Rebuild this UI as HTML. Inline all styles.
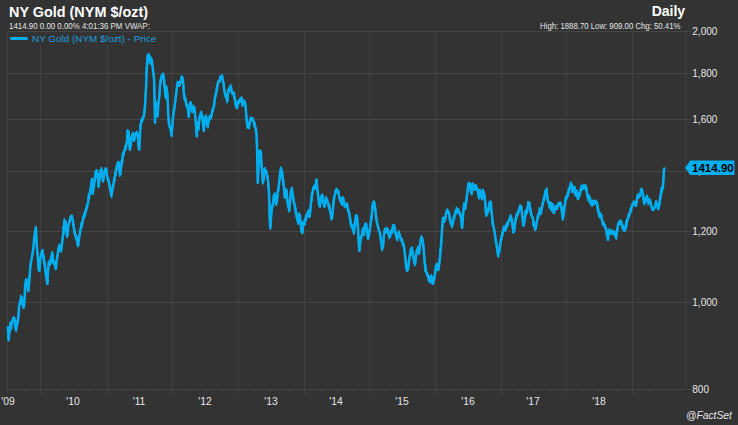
<!DOCTYPE html>
<html><head><meta charset="utf-8"><title>NY Gold (NYM $/ozt)</title>
<style>
html,body{margin:0;padding:0;background:#333333;}
body{width:738px;height:425px;position:relative;overflow:hidden;font-family:'Liberation Sans',Arial,Helvetica,sans-serif;}
.ov{position:absolute;left:0;top:0;}
.t{position:absolute;white-space:nowrap;line-height:1;}
</style></head><body>
<svg class="ov" width="738" height="425" viewBox="0 0 738 425" shape-rendering="crispEdges">
<rect x="0" y="0" width="738" height="425" fill="#333333"/>
<path d="M7.5 31.5H691M7.5 73.5H691M7.5 119.5H691M7.5 171.5H691M7.5 231.5H691M7.5 302.5H691M7.5 389.5H691" stroke="#454545" stroke-width="1" fill="none"/>
<path d="M40.5 32V395M107.5 32V395M172.5 32V395M238.5 32V395M304.5 32V395M369.5 32V395M435.5 32V395M501.5 32V395M566.5 32V395M632.5 32V395M7.5 31.5V389.5M685.5 31.5V389.5M7.5 390V392M24.5 390V392M57.5 390V392M74.5 390V392M90.5 390V392M123.5 390V392M140.5 390V392M156.5 390V392M188.5 390V392M205.5 390V392M222.5 390V392M254.5 390V392M271.5 390V392M288.5 390V392M320.5 390V392M336.5 390V392M353.5 390V392M386.5 390V392M402.5 390V392M418.5 390V392M452.5 390V392M468.5 390V392M484.5 390V392M517.5 390V392M534.5 390V392M550.5 390V392M582.5 390V392M599.5 390V392M616.5 390V392M648.5 390V392M7.5 390V392" stroke="#404040" stroke-width="1" fill="none"/>
<rect x="8" y="32" width="150" height="12" fill="#333333"/>
</svg>
<svg class="ov" width="738" height="425"><path d="M7.9 327.3 L8.6 340.3 L9.4 332.6 L10.4 323.8 L11.0 329.1 L12.0 322.0 L13.3 318.1 L14.1 317.6 L15.0 323.8 L15.9 330.0 L17.0 323.8 L17.7 322.0 L18.6 315.0 L19.1 306.1 L20.3 302.6 L21.6 297.3 L22.6 304.4 L23.9 307.0 L24.7 297.3 L25.1 284.9 L26.3 279.3 L27.4 286.7 L28.4 290.8 L29.2 281.4 L30.0 270.8 L30.6 263.8 L32.0 256.8 L33.3 248.8 L34.1 239.1 L35.0 232.0 L35.9 228.0 L36.4 237.3 L36.8 246.1 L37.7 255.0 L38.6 269.1 L39.4 270.8 L40.3 258.5 L41.6 253.2 L42.6 250.1 L43.3 256.8 L44.4 262.0 L45.3 269.1 L46.5 277.9 L47.4 284.1 L47.9 272.6 L48.8 262.0 L50.0 263.8 L51.4 256.8 L52.2 253.6 L53.2 262.0 L54.5 263.8 L55.9 269.1 L56.7 260.3 L57.5 255.0 L58.5 247.9 L59.8 246.1 L61.0 251.4 L62.0 243.5 L62.8 237.3 L63.8 228.5 L64.5 220.9 L65.6 221.4 L66.3 230.2 L67.4 235.5 L68.1 226.7 L69.1 223.2 L70.4 217.9 L71.6 215.6 L72.7 219.6 L73.9 228.5 L75.1 233.8 L76.5 237.3 L78.0 246.1 L79.2 237.3 L80.4 230.2 L81.8 224.9 L83.6 217.9 L84.4 215.0 L86.2 209.7 L88.0 202.6 L89.7 193.8 L91.0 186.8 L92.0 178.8 L92.7 193.8 L93.8 185.0 L95.0 177.9 L95.9 170.8 L96.8 170.4 L97.7 176.1 L98.6 186.8 L99.4 179.7 L100.3 170.8 L101.2 169.5 L102.1 174.4 L103.0 181.4 L103.9 176.1 L104.7 170.8 L106.1 168.6 L106.9 174.4 L107.9 179.7 L109.2 183.2 L110.4 190.3 L111.4 195.6 L112.3 190.3 L113.6 183.2 L115.0 176.1 L116.2 169.1 L117.5 163.8 L118.5 162.0 L119.6 172.6 L120.3 174.4 L121.0 167.3 L122.4 160.2 L123.0 153.7 L124.3 151.1 L125.6 147.2 L126.9 142.0 L127.8 131.7 L128.6 131.7 L129.1 139.5 L129.9 149.8 L130.8 144.6 L131.4 138.2 L132.5 134.3 L133.4 136.9 L134.0 140.8 L135.0 135.6 L135.9 133.0 L137.2 133.0 L137.9 135.6 L138.5 144.6 L139.2 149.8 L139.8 138.2 L140.5 125.2 L141.5 120.0 L142.8 118.7 L143.7 116.2 L144.4 112.3 L145.0 106.8 L145.5 96.8 L146.1 86.4 L146.5 72.8 L147.1 63.4 L147.6 55.8 L148.6 55.9 L149.4 57.0 L150.0 63.4 L150.6 57.6 L151.4 58.7 L152.1 62.3 L152.9 69.3 L153.5 74.0 L154.1 79.8 L154.5 95.8 L155.0 122.6 L155.7 102.3 L156.6 105.8 L157.5 116.4 L158.5 102.3 L159.4 94.8 L160.0 85.8 L160.8 81.1 L161.8 76.4 L162.7 75.3 L163.5 75.2 L164.1 81.1 L164.7 88.8 L165.6 97.0 L166.3 86.4 L167.3 93.5 L168.1 111.1 L169.1 125.3 L170.4 127.0 L171.6 135.9 L172.7 120.0 L173.9 111.1 L175.1 102.3 L176.2 93.5 L177.1 85.8 L178.2 83.4 L179.4 85.8 L180.6 81.1 L181.8 77.6 L182.6 77.7 L183.2 83.4 L183.9 94.0 L185.3 99.3 L186.7 106.4 L187.9 108.1 L188.8 116.9 L189.7 104.6 L190.6 102.4 L191.5 108.1 L192.3 111.7 L193.2 106.4 L194.5 108.1 L195.5 118.7 L196.2 127.5 L196.8 136.3 L197.6 122.2 L198.5 129.3 L199.4 118.7 L200.8 113.0 L202.0 115.2 L202.9 122.2 L203.8 131.1 L204.7 118.7 L205.6 116.5 L206.5 118.7 L207.3 125.8 L208.6 122.2 L210.0 116.9 L211.4 115.2 L212.6 109.9 L213.9 106.4 L214.9 97.5 L216.2 92.3 L217.4 85.2 L218.4 81.7 L219.7 79.9 L220.9 78.1 L222.0 76.8 L223.2 81.7 L224.1 88.7 L225.0 94.0 L226.2 95.8 L227.3 101.1 L228.0 92.3 L229.4 88.7 L230.8 86.5 L231.5 90.5 L232.6 94.0 L233.8 94.0 L235.0 99.3 L236.1 106.4 L236.8 108.1 L237.8 102.8 L239.1 101.1 L240.3 99.3 L241.7 98.8 L243.1 104.6 L244.4 101.1 L245.6 106.4 L246.1 112.6 L246.8 121.4 L247.7 127.6 L248.9 126.7 L249.9 121.4 L251.2 119.2 L252.4 119.2 L253.5 121.4 L254.7 124.9 L255.6 128.5 L256.5 133.8 L257.0 146.1 L257.4 163.8 L257.8 182.8 L258.3 170.8 L258.8 153.2 L260.0 152.3 L260.9 152.7 L261.4 163.8 L262.3 172.8 L262.8 182.6 L263.6 179.9 L264.4 169.3 L265.3 172.9 L266.2 171.1 L267.1 176.4 L268.0 179.9 L268.9 192.3 L269.4 204.7 L269.7 218.8 L270.3 228.5 L271.1 217.0 L271.9 208.2 L272.9 204.7 L273.8 195.8 L274.7 193.6 L275.4 197.6 L276.1 204.7 L276.8 201.1 L277.7 192.3 L278.6 187.0 L279.5 179.9 L280.3 171.1 L281.2 168.9 L282.1 172.9 L283.0 179.9 L283.9 187.0 L284.8 197.6 L285.6 192.3 L286.5 190.5 L287.4 201.1 L288.3 206.4 L289.2 210.0 L290.1 201.1 L290.9 192.3 L291.8 188.3 L292.7 194.1 L293.6 201.1 L294.5 204.7 L295.4 210.0 L296.2 213.5 L297.1 218.8 L298.0 222.3 L298.9 217.0 L299.8 214.8 L300.7 222.3 L301.5 231.2 L302.4 232.9 L303.3 222.3 L304.2 224.1 L305.1 218.8 L306.4 216.9 L307.6 213.4 L308.5 211.7 L309.4 216.9 L310.3 209.9 L311.2 201.1 L312.1 194.0 L312.9 190.5 L313.8 187.0 L314.7 188.7 L315.6 185.2 L316.5 179.4 L317.3 188.7 L318.2 195.8 L319.1 204.6 L320.0 206.4 L320.9 199.3 L321.8 195.3 L322.6 195.8 L323.5 202.8 L324.4 206.4 L325.3 201.1 L326.2 198.4 L327.0 201.1 L327.9 202.8 L328.8 206.4 L329.7 208.1 L330.6 213.4 L331.5 218.7 L332.3 215.2 L333.2 206.4 L334.1 197.5 L335.0 194.0 L335.9 192.3 L336.7 190.5 L338.2 190.9 L339.0 195.8 L339.9 199.3 L341.2 201.1 L342.0 204.6 L342.9 197.5 L343.8 201.1 L344.7 204.6 L345.6 206.4 L347.0 204.6 L347.9 209.9 L349.1 213.4 L350.0 218.8 L351.0 224.8 L352.0 226.8 L353.0 228.8 L354.0 232.8 L355.0 222.8 L356.0 216.8 L357.0 217.1 L358.0 226.8 L358.6 240.8 L359.4 250.8 L360.0 244.8 L361.0 236.8 L362.0 234.8 L363.0 228.8 L364.0 234.8 L365.0 224.8 L366.0 224.1 L367.0 230.8 L368.0 238.8 L369.0 234.8 L370.0 228.8 L371.0 220.8 L372.0 212.8 L373.0 202.8 L374.0 203.1 L375.0 206.8 L376.0 216.8 L377.0 222.8 L378.0 226.8 L379.0 230.8 L380.0 232.8 L381.0 240.8 L382.0 248.8 L383.0 246.8 L384.0 234.8 L385.0 228.8 L386.0 230.8 L387.0 228.1 L388.0 230.8 L389.0 234.8 L390.0 236.8 L391.0 230.8 L392.0 232.8 L393.0 226.8 L394.0 225.1 L395.0 230.8 L396.0 234.8 L397.0 238.8 L398.0 234.8 L399.0 232.8 L400.0 236.8 L401.0 238.8 L402.0 240.8 L403.0 242.8 L404.0 246.8 L405.0 254.8 L406.0 264.8 L407.0 270.8 L408.0 268.8 L409.0 260.8 L410.0 254.8 L411.0 248.8 L412.0 248.1 L413.0 254.8 L414.0 260.8 L415.0 263.8 L416.0 255.8 L417.0 249.8 L418.0 247.8 L419.0 253.8 L420.0 245.8 L421.0 237.8 L422.0 238.1 L423.0 241.8 L424.0 253.8 L425.0 265.8 L426.0 271.8 L427.0 273.8 L428.0 275.8 L429.0 279.8 L430.0 281.8 L431.0 275.8 L432.0 279.8 L433.0 283.8 L434.0 277.8 L435.0 273.8 L436.0 265.8 L437.0 263.8 L438.0 269.8 L439.0 265.8 L440.0 257.8 L441.0 245.8 L442.0 229.8 L443.0 217.8 L444.0 221.8 L445.0 219.8 L446.0 213.8 L447.0 210.8 L448.0 211.1 L449.0 213.8 L450.0 219.8 L451.0 223.8 L452.0 225.8 L453.0 221.8 L454.0 217.8 L455.0 213.8 L456.0 211.8 L457.0 209.1 L458.0 209.8 L459.0 211.8 L460.0 213.8 L461.1 217.3 L462.1 227.9 L463.2 213.1 L464.2 204.6 L465.3 208.8 L466.3 200.4 L467.4 191.9 L468.5 183.5 L469.5 183.7 L470.6 189.8 L471.6 194.1 L472.7 183.5 L473.7 187.7 L474.8 189.8 L475.9 186.7 L476.9 187.7 L478.0 191.9 L479.0 198.3 L480.1 189.8 L481.1 194.1 L482.2 198.3 L483.3 191.1 L484.3 194.1 L485.4 204.6 L486.4 215.2 L487.5 213.1 L488.5 208.8 L489.6 202.5 L490.7 201.7 L491.7 213.1 L492.8 223.7 L493.8 227.9 L494.9 234.2 L495.9 240.6 L497.0 246.9 L498.1 255.4 L499.1 251.1 L500.2 244.8 L501.2 238.5 L502.3 234.2 L503.3 230.0 L504.4 227.9 L505.5 230.0 L506.5 225.8 L507.6 223.7 L508.6 221.5 L509.7 219.4 L510.7 216.5 L511.8 219.4 L512.9 227.9 L513.9 232.1 L515.0 223.7 L516.0 217.3 L517.1 215.2 L518.1 213.1 L519.2 208.8 L520.3 205.9 L521.3 206.7 L522.4 217.3 L523.4 225.8 L524.5 221.5 L525.5 211.8 L526.8 213.2 L527.6 207.9 L528.5 203.4 L529.4 203.9 L530.3 209.6 L531.2 214.9 L532.1 216.7 L532.9 218.4 L533.8 223.7 L534.7 227.3 L535.6 229.0 L536.5 223.7 L537.4 218.4 L538.2 214.9 L539.1 213.2 L540.0 209.6 L540.9 213.2 L541.8 207.9 L542.6 204.3 L543.5 200.8 L544.4 197.3 L545.3 192.0 L546.2 189.7 L547.1 195.5 L547.9 200.8 L548.8 202.6 L549.7 206.1 L550.6 202.6 L551.5 209.6 L552.4 204.3 L553.2 207.9 L554.1 211.4 L555.0 209.6 L555.9 206.1 L556.8 207.9 L557.6 206.1 L558.5 204.3 L559.4 203.9 L560.3 204.3 L561.2 206.1 L562.1 213.2 L562.9 218.4 L563.8 213.2 L564.7 206.1 L565.6 199.0 L566.5 197.3 L567.4 195.5 L568.2 192.0 L569.1 190.2 L570.0 188.4 L570.9 184.0 L571.8 184.5 L572.6 192.0 L573.5 190.2 L574.4 186.7 L575.3 193.7 L576.2 195.5 L577.1 192.0 L577.9 199.0 L578.8 193.7 L579.7 195.5 L580.6 190.2 L581.5 186.7 L582.4 188.4 L583.2 186.2 L584.1 186.7 L585.0 188.4 L585.9 186.7 L586.8 192.0 L587.6 195.5 L588.5 199.0 L589.4 197.3 L590.3 200.8 L591.2 202.6 L592.1 204.3 L592.9 202.6 L593.8 202.1 L594.7 202.6 L596.0 202.1 L597.0 202.8 L598.0 208.8 L599.0 214.8 L600.0 216.8 L601.0 214.8 L602.0 220.8 L603.0 222.8 L604.0 224.8 L605.0 226.8 L606.0 228.8 L607.0 234.8 L608.0 239.8 L609.0 230.8 L610.0 232.8 L611.0 232.1 L612.0 232.8 L613.0 232.1 L614.0 231.8 L615.0 234.8 L616.0 237.8 L617.0 230.8 L618.0 224.8 L619.0 222.8 L620.0 222.1 L621.0 222.8 L622.0 224.8 L623.0 226.8 L624.0 230.8 L625.0 228.8 L626.0 224.8 L627.0 220.8 L628.0 218.8 L629.0 214.8 L630.0 212.8 L631.0 208.8 L632.0 205.8 L633.0 203.8 L634.0 202.8 L635.0 204.8 L636.0 205.8 L637.0 198.8 L638.0 195.8 L639.0 196.8 L640.0 195.8 L641.0 190.8 L642.0 190.1 L643.0 194.8 L644.0 202.8 L645.0 200.8 L646.0 198.8 L647.0 195.8 L648.0 200.8 L649.0 202.8 L650.0 200.8 L651.0 204.8 L652.0 208.8 L653.0 209.8 L654.0 208.8 L655.0 206.8 L656.0 202.8 L657.0 204.8 L658.0 208.8 L659.0 206.8 L660.0 198.8 L661.0 192.8 L662.0 189.8 L663.0 186.8 L663.6 176.8 L664.0 168.8 L664.4 168.6" stroke="#00aeef" stroke-width="2.5" fill="none" stroke-linejoin="round" stroke-linecap="round"/><path d="M7.9 327.3 L8.1 331.1 L8.4 337.1 L8.6 340.3 L8.9 335.7 L9.1 334.7 L9.4 332.6 L9.7 332.7 L9.9 328.8 L10.2 322.3 L10.4 323.8 L10.7 328.3 L11.0 329.1 L11.2 323.6 L11.5 321.7 L11.8 324.4 L12.0 322.0 L12.3 321.1 L12.5 321.1 L12.8 320.5 L13.0 320.1 L13.3 318.1 L13.6 319.9 L13.8 317.0 L14.1 317.6 L14.3 318.9 L14.6 319.7 L14.8 320.1 L15.0 323.8 L15.2 323.6 L15.4 327.4 L15.7 328.6 L15.9 330.0 L16.2 331.3 L16.4 326.7 L16.7 323.6 L17.0 323.8 L17.2 320.2 L17.5 324.4 L17.7 322.0 L17.9 323.4 L18.1 319.3 L18.4 318.1 L18.6 315.0 L18.9 309.2 L19.1 306.1 L19.3 303.3 L19.6 303.5 L19.8 300.8 L20.1 303.8 L20.3 302.6 L20.6 297.4 L20.8 295.5 L21.1 297.0 L21.3 300.5 L21.6 297.3 L21.9 299.6 L22.1 301.8 L22.4 303.8 L22.6 304.4 L22.9 306.1 L23.1 307.5 L23.4 307.1 L23.6 308.3 L23.9 307.0 L24.2 299.8 L24.4 297.6 L24.7 297.3 L24.9 294.6 L25.1 284.9 L25.3 284.5 L25.6 284.1 L25.8 280.1 L26.1 279.5 L26.3 279.3 L26.6 279.2 L26.9 285.1 L27.1 281.8 L27.4 286.7 L27.6 287.4 L27.9 291.8 L28.1 287.5 L28.4 290.8 L28.7 285.9 L28.9 285.9 L29.2 281.4 L29.5 278.6 L29.7 274.6 L30.0 270.8 L30.3 266.9 L30.6 263.8 L30.8 263.2 L31.1 263.1 L31.3 261.5 L31.5 258.2 L31.8 257.1 L32.0 256.8 L32.3 254.5 L32.5 254.4 L32.8 249.5 L33.0 250.9 L33.3 248.8 L33.6 244.6 L33.8 243.8 L34.1 239.1 L34.3 240.9 L34.5 236.3 L34.8 233.3 L35.0 232.0 L35.2 230.9 L35.5 232.2 L35.7 226.4 L35.9 228.0 L36.1 234.5 L36.4 237.3 L36.6 245.0 L36.8 246.1 L37.0 247.6 L37.2 251.9 L37.5 255.2 L37.7 255.0 L37.9 255.3 L38.1 262.4 L38.4 268.2 L38.6 269.1 L38.9 271.4 L39.1 270.5 L39.4 270.8 L39.6 270.0 L39.9 264.0 L40.1 263.6 L40.3 258.5 L40.6 256.9 L40.8 256.9 L41.1 256.7 L41.3 255.6 L41.6 253.2 L41.9 250.3 L42.1 254.4 L42.4 252.5 L42.6 250.1 L42.8 252.3 L43.1 252.1 L43.3 256.8 L43.6 256.1 L43.9 262.8 L44.1 256.4 L44.4 262.0 L44.6 266.9 L44.9 266.4 L45.1 268.2 L45.3 269.1 L45.5 273.4 L45.8 275.9 L46.0 272.7 L46.3 278.4 L46.5 277.9 L46.7 282.6 L47.0 280.4 L47.2 278.5 L47.4 284.1 L47.6 280.1 L47.9 272.6 L48.1 269.9 L48.4 269.1 L48.6 264.5 L48.8 262.0 L49.0 264.6 L49.3 261.2 L49.5 265.0 L49.8 260.2 L50.0 263.8 L50.2 265.0 L50.5 261.0 L50.7 260.2 L50.9 263.1 L51.2 258.1 L51.4 256.8 L51.7 255.3 L51.9 251.9 L52.2 253.6 L52.5 252.1 L52.7 256.5 L53.0 259.9 L53.2 262.0 L53.5 264.1 L53.7 260.2 L54.0 261.7 L54.2 261.4 L54.5 263.8 L54.7 263.0 L55.0 263.0 L55.2 267.2 L55.4 265.9 L55.7 263.9 L55.9 269.1 L56.2 261.3 L56.4 261.3 L56.7 260.3 L57.0 260.2 L57.2 258.4 L57.5 255.0 L57.8 256.2 L58.0 252.9 L58.2 251.7 L58.5 247.9 L58.8 249.7 L59.0 249.7 L59.3 244.3 L59.5 244.4 L59.8 246.1 L60.0 248.7 L60.3 249.4 L60.5 251.3 L60.8 251.0 L61.0 251.4 L61.2 251.2 L61.5 245.2 L61.8 244.7 L62.0 243.5 L62.3 239.6 L62.5 237.5 L62.8 237.3 L63.0 236.5 L63.3 227.2 L63.5 234.4 L63.8 228.5 L64.0 226.9 L64.3 219.2 L64.5 220.9 L64.8 223.2 L65.0 223.2 L65.3 223.2 L65.6 221.4 L65.8 225.0 L66.1 227.7 L66.3 230.2 L66.6 236.2 L66.8 235.1 L67.1 237.3 L67.4 235.5 L67.6 234.7 L67.9 227.7 L68.1 226.7 L68.3 226.4 L68.6 224.8 L68.8 225.2 L69.1 223.2 L69.4 223.2 L69.6 221.9 L69.9 219.3 L70.1 220.7 L70.4 217.9 L70.6 216.1 L70.9 217.0 L71.1 216.5 L71.4 216.4 L71.6 215.6 L71.9 217.5 L72.2 219.9 L72.4 219.6 L72.7 219.6 L72.9 219.3 L73.2 221.1 L73.4 226.6 L73.7 224.4 L73.9 228.5 L74.1 233.0 L74.4 228.9 L74.6 232.8 L74.9 235.6 L75.1 233.8 L75.3 235.9 L75.6 238.6 L75.8 237.7 L76.0 235.8 L76.3 238.3 L76.5 237.3 L76.8 240.1 L77.0 242.2 L77.2 244.4 L77.5 242.7 L77.8 243.9 L78.0 246.1 L78.2 246.3 L78.5 240.0 L78.7 241.2 L79.0 240.8 L79.2 237.3 L79.4 235.9 L79.7 234.9 L79.9 233.2 L80.2 229.3 L80.4 230.2 L80.6 227.9 L80.9 227.5 L81.1 223.1 L81.3 227.9 L81.6 225.7 L81.8 224.9 L82.1 226.7 L82.3 224.0 L82.6 221.5 L82.8 216.9 L83.1 216.1 L83.3 218.8 L83.6 217.9 L83.9 213.2 L84.1 213.6 L84.4 215.0 L84.7 214.3 L84.9 214.0 L85.2 216.0 L85.4 214.5 L85.7 208.9 L85.9 208.1 L86.2 209.7 L86.5 209.8 L86.7 204.2 L87.0 206.2 L87.2 205.0 L87.5 206.2 L87.7 204.4 L88.0 202.6 L88.2 201.0 L88.5 194.1 L88.7 195.5 L89.0 198.0 L89.2 195.8 L89.5 194.4 L89.7 193.8 L90.0 192.3 L90.2 189.1 L90.5 191.2 L90.7 188.8 L91.0 186.8 L91.2 184.0 L91.5 181.2 L91.8 179.7 L92.0 178.8 L92.2 184.0 L92.5 193.9 L92.7 193.8 L93.0 190.9 L93.2 191.9 L93.5 183.2 L93.8 185.0 L94.0 184.9 L94.3 186.8 L94.5 182.4 L94.8 181.4 L95.0 177.9 L95.2 177.2 L95.5 172.0 L95.7 173.1 L95.9 170.8 L96.1 172.6 L96.3 172.6 L96.6 170.6 L96.8 170.4 L97.0 173.1 L97.2 174.8 L97.5 177.9 L97.7 176.1 L97.9 178.8 L98.2 184.6 L98.4 182.6 L98.6 186.8 L98.9 182.9 L99.1 183.7 L99.4 179.7 L99.6 176.0 L99.8 177.0 L100.1 176.4 L100.3 170.8 L100.5 172.6 L100.8 170.2 L101.0 171.6 L101.2 169.5 L101.4 167.7 L101.7 175.9 L101.9 169.9 L102.1 174.4 L102.3 172.6 L102.5 177.8 L102.8 179.0 L103.0 181.4 L103.2 180.1 L103.5 175.6 L103.7 178.4 L103.9 176.1 L104.2 173.8 L104.4 171.5 L104.7 170.8 L104.9 172.6 L105.2 169.0 L105.4 168.2 L105.6 170.0 L105.9 170.1 L106.1 168.6 L106.4 169.0 L106.6 172.5 L106.9 174.4 L107.2 174.6 L107.4 177.4 L107.7 177.8 L107.9 179.7 L108.2 181.2 L108.4 177.9 L108.7 179.8 L108.9 180.2 L109.2 183.2 L109.4 186.0 L109.7 187.7 L109.9 188.1 L110.2 185.8 L110.4 190.3 L110.7 191.6 L110.9 192.7 L111.2 195.9 L111.4 195.6 L111.6 197.4 L111.8 191.7 L112.1 195.0 L112.3 190.3 L112.6 189.6 L112.8 187.4 L113.1 186.0 L113.3 186.6 L113.6 183.2 L113.8 178.2 L114.1 181.8 L114.3 180.5 L114.5 181.8 L114.8 176.0 L115.0 176.1 L115.2 172.0 L115.5 174.0 L115.7 172.4 L116.0 175.4 L116.2 169.1 L116.5 169.2 L116.7 168.2 L117.0 166.6 L117.2 165.4 L117.5 163.8 L117.8 162.2 L118.0 163.9 L118.2 161.7 L118.5 162.0 L118.8 167.0 L119.0 169.2 L119.3 168.3 L119.6 172.6 L119.8 176.2 L120.1 173.0 L120.3 174.4 L120.5 168.7 L120.8 169.7 L121.0 167.3 L121.2 163.6 L121.5 160.6 L121.7 162.5 L121.9 164.5 L122.2 162.4 L122.4 160.2 L122.7 153.5 L123.0 153.7 L123.3 155.1 L123.5 152.3 L123.8 152.8 L124.0 155.3 L124.3 151.1 L124.6 148.9 L124.8 149.6 L125.1 146.0 L125.3 145.4 L125.6 147.2 L125.9 147.5 L126.1 149.0 L126.4 146.1 L126.6 143.8 L126.9 142.0 L127.1 138.6 L127.3 129.9 L127.6 136.3 L127.8 131.7 L128.1 133.5 L128.3 130.6 L128.6 131.7 L128.8 133.8 L129.1 139.5 L129.4 143.0 L129.6 146.5 L129.9 149.8 L130.1 149.6 L130.3 146.9 L130.6 143.4 L130.8 144.6 L131.1 144.6 L131.4 138.2 L131.7 139.6 L131.9 137.0 L132.2 136.0 L132.5 134.3 L132.7 136.9 L132.9 132.5 L133.2 138.4 L133.4 136.9 L133.7 139.6 L134.0 140.8 L134.2 139.7 L134.5 138.1 L134.8 133.8 L135.0 135.6 L135.2 137.4 L135.4 133.5 L135.7 132.9 L135.9 133.0 L136.2 134.6 L136.4 134.8 L136.7 131.4 L136.9 133.2 L137.2 133.0 L137.4 136.3 L137.7 133.5 L137.9 135.6 L138.2 141.2 L138.5 144.6 L138.7 147.6 L139.0 147.5 L139.2 149.8 L139.5 145.7 L139.8 138.2 L140.0 130.5 L140.3 128.7 L140.5 125.2 L140.8 125.8 L141.0 123.8 L141.2 124.8 L141.5 120.0 L141.8 121.8 L142.0 120.1 L142.3 121.8 L142.5 116.9 L142.8 118.7 L143.0 120.2 L143.2 118.9 L143.5 117.0 L143.7 116.2 L143.9 117.2 L144.2 113.5 L144.4 112.3 L144.7 105.3 L145.0 106.8 L145.2 102.8 L145.5 96.8 L145.8 90.1 L146.1 86.4 L146.3 79.5 L146.5 72.8 L146.8 66.6 L147.1 63.4 L147.3 62.2 L147.6 55.8 L147.8 57.7 L148.1 54.0 L148.3 57.7 L148.6 55.9 L148.9 57.4 L149.1 54.1 L149.4 57.0 L149.7 56.2 L150.0 63.4 L150.3 61.1 L150.6 57.6 L150.9 59.7 L151.1 58.8 L151.4 58.7 L151.6 62.8 L151.9 60.6 L152.1 62.3 L152.4 66.2 L152.6 65.2 L152.9 69.3 L153.2 72.6 L153.5 74.0 L153.8 76.5 L154.1 79.8 L154.3 88.2 L154.5 95.8 L154.8 111.3 L155.0 122.6 L155.2 115.7 L155.5 112.0 L155.7 102.3 L155.9 105.1 L156.2 104.2 L156.4 104.4 L156.6 105.8 L156.8 109.8 L157.1 112.0 L157.3 114.1 L157.5 116.4 L157.8 112.3 L158.0 108.6 L158.2 104.3 L158.5 102.3 L158.7 101.4 L158.9 97.5 L159.2 99.3 L159.4 94.8 L159.7 95.2 L160.0 85.8 L160.3 79.3 L160.5 82.5 L160.8 81.1 L161.1 78.5 L161.3 75.1 L161.6 79.5 L161.8 76.4 L162.0 74.8 L162.2 76.2 L162.5 73.5 L162.7 75.3 L163.0 73.4 L163.2 73.4 L163.5 75.2 L163.8 80.0 L164.1 81.1 L164.4 80.0 L164.7 88.8 L164.9 90.2 L165.2 94.8 L165.4 89.5 L165.6 97.0 L165.8 98.8 L166.1 87.8 L166.3 86.4 L166.6 90.1 L166.8 89.0 L167.1 92.3 L167.3 93.5 L167.6 98.2 L167.8 101.7 L168.1 111.1 L168.3 117.0 L168.6 118.6 L168.8 123.9 L169.1 125.3 L169.4 126.8 L169.6 127.1 L169.9 128.8 L170.1 127.4 L170.4 127.0 L170.6 129.4 L170.9 129.6 L171.1 131.0 L171.4 132.8 L171.6 135.9 L171.9 129.0 L172.2 129.4 L172.4 127.0 L172.7 120.0 L172.9 118.7 L173.2 116.8 L173.4 110.8 L173.7 111.8 L173.9 111.1 L174.1 109.5 L174.4 109.6 L174.6 107.1 L174.9 103.5 L175.1 102.3 L175.4 99.4 L175.7 97.2 L175.9 95.7 L176.2 93.5 L176.4 92.7 L176.7 89.3 L176.9 87.3 L177.1 85.8 L177.4 81.6 L177.7 81.6 L177.9 84.3 L178.2 83.4 L178.4 85.1 L178.7 81.6 L178.9 84.9 L179.2 84.0 L179.4 85.8 L179.6 85.3 L179.9 82.8 L180.1 83.4 L180.4 83.7 L180.6 81.1 L180.8 81.8 L181.1 80.0 L181.3 77.0 L181.6 75.8 L181.8 77.6 L182.1 79.5 L182.3 79.5 L182.6 77.7 L182.9 82.5 L183.2 83.4 L183.4 84.9 L183.7 95.8 L183.9 94.0 L184.1 99.1 L184.4 96.3 L184.6 95.0 L184.8 95.1 L185.1 101.1 L185.3 99.3 L185.5 100.5 L185.8 101.0 L186.0 98.8 L186.2 99.2 L186.5 105.2 L186.7 106.4 L186.9 106.9 L187.2 105.3 L187.4 105.9 L187.7 108.8 L187.9 108.1 L188.1 111.5 L188.3 114.6 L188.6 114.7 L188.8 116.9 L189.0 114.3 L189.2 113.6 L189.5 105.9 L189.7 104.6 L189.9 102.3 L190.2 103.5 L190.4 104.2 L190.6 102.4 L190.8 106.5 L191.1 102.5 L191.3 109.8 L191.5 108.1 L191.8 109.5 L192.0 109.0 L192.3 111.7 L192.5 108.5 L192.8 109.1 L193.0 112.5 L193.2 106.4 L193.5 105.4 L193.7 108.0 L194.0 109.9 L194.2 108.0 L194.5 108.1 L194.8 111.7 L195.0 116.3 L195.2 116.6 L195.5 118.7 L195.7 120.4 L196.0 129.0 L196.2 127.5 L196.5 133.3 L196.8 136.3 L197.1 135.8 L197.3 127.1 L197.6 122.2 L197.8 123.8 L198.1 123.3 L198.3 127.6 L198.5 129.3 L198.7 127.3 L198.9 122.6 L199.2 117.3 L199.4 118.7 L199.6 115.5 L199.9 116.0 L200.1 115.5 L200.3 118.0 L200.6 114.2 L200.8 113.0 L201.0 113.2 L201.3 113.7 L201.5 111.2 L201.8 116.2 L202.0 115.2 L202.2 115.6 L202.4 116.4 L202.7 118.0 L202.9 122.2 L203.1 120.4 L203.3 127.5 L203.6 125.6 L203.8 131.1 L204.0 129.4 L204.2 125.6 L204.5 124.8 L204.7 118.7 L204.9 118.5 L205.2 118.0 L205.4 116.4 L205.6 116.5 L205.8 118.1 L206.1 116.5 L206.3 115.2 L206.5 118.7 L206.8 123.8 L207.0 124.6 L207.3 125.8 L207.6 127.0 L207.8 120.4 L208.1 127.6 L208.3 120.4 L208.6 122.2 L208.8 121.8 L209.1 120.8 L209.3 116.8 L209.5 115.6 L209.8 118.6 L210.0 116.9 L210.2 117.2 L210.5 115.4 L210.7 118.2 L210.9 115.1 L211.2 118.7 L211.4 115.2 L211.6 116.7 L211.9 112.5 L212.1 114.2 L212.4 111.4 L212.6 109.9 L212.9 107.2 L213.1 111.3 L213.4 108.4 L213.6 106.4 L213.9 106.4 L214.2 105.7 L214.4 102.0 L214.7 102.3 L214.9 97.5 L215.2 96.5 L215.4 96.5 L215.7 96.7 L215.9 93.0 L216.2 92.3 L216.4 94.1 L216.7 88.7 L216.9 85.6 L217.2 90.0 L217.4 85.2 L217.7 86.2 L217.9 82.0 L218.2 81.1 L218.4 81.7 L218.7 82.1 L218.9 80.4 L219.2 81.1 L219.4 81.9 L219.7 79.9 L219.9 76.3 L220.2 81.7 L220.4 76.3 L220.7 77.7 L220.9 78.1 L221.2 76.6 L221.4 79.0 L221.7 75.2 L222.0 76.8 L222.2 75.0 L222.5 79.2 L222.7 76.9 L223.0 81.9 L223.2 81.7 L223.4 82.4 L223.7 84.0 L223.9 82.9 L224.1 88.7 L224.3 90.0 L224.6 93.3 L224.8 92.0 L225.0 94.0 L225.2 95.6 L225.5 97.6 L225.7 97.6 L226.0 97.6 L226.2 95.8 L226.5 96.7 L226.8 99.5 L227.0 102.7 L227.3 101.1 L227.5 97.7 L227.8 95.6 L228.0 92.3 L228.2 90.8 L228.5 88.7 L228.7 92.4 L228.9 92.2 L229.2 91.2 L229.4 88.7 L229.6 87.1 L229.9 86.6 L230.1 88.3 L230.3 87.8 L230.6 84.7 L230.8 86.5 L231.0 86.3 L231.3 87.3 L231.5 90.5 L231.8 93.2 L232.1 93.6 L232.3 92.0 L232.6 94.0 L232.8 92.8 L233.1 92.4 L233.3 92.4 L233.6 95.3 L233.8 94.0 L234.0 98.0 L234.3 92.2 L234.5 97.6 L234.8 100.3 L235.0 99.3 L235.3 104.3 L235.6 105.2 L235.8 106.3 L236.1 106.4 L236.3 104.6 L236.6 107.3 L236.8 108.1 L237.1 102.2 L237.3 108.3 L237.6 101.2 L237.8 102.8 L238.1 104.6 L238.3 101.7 L238.6 102.4 L238.8 103.7 L239.1 101.1 L239.3 100.9 L239.6 99.3 L239.8 101.4 L240.1 102.2 L240.3 99.3 L240.5 98.2 L240.8 98.0 L241.0 100.0 L241.2 100.1 L241.5 97.0 L241.7 98.8 L241.9 100.6 L242.2 106.3 L242.4 103.4 L242.6 99.0 L242.9 102.5 L243.1 104.6 L243.4 103.6 L243.6 104.2 L243.9 101.1 L244.1 100.5 L244.4 101.1 L244.6 102.8 L244.9 102.9 L245.1 105.9 L245.4 102.5 L245.6 106.4 L245.8 110.9 L246.1 112.6 L246.3 119.4 L246.6 116.6 L246.8 121.4 L247.0 126.2 L247.2 122.3 L247.5 125.8 L247.7 127.6 L247.9 127.1 L248.2 126.3 L248.4 125.7 L248.7 127.3 L248.9 126.7 L249.2 128.5 L249.4 127.3 L249.7 120.5 L249.9 121.4 L250.2 118.0 L250.4 118.1 L250.7 121.1 L250.9 117.4 L251.2 119.2 L251.4 117.4 L251.7 118.5 L251.9 117.6 L252.2 118.6 L252.4 119.2 L252.7 119.0 L252.9 120.3 L253.2 118.3 L253.5 121.4 L253.7 122.2 L254.0 126.7 L254.2 123.7 L254.5 122.1 L254.7 124.9 L254.9 123.1 L255.2 127.5 L255.4 127.4 L255.6 128.5 L255.8 132.8 L256.1 131.7 L256.3 129.5 L256.5 133.8 L256.8 145.4 L257.0 146.1 L257.2 155.4 L257.4 163.8 L257.6 172.9 L257.8 182.8 L258.1 174.5 L258.3 170.8 L258.6 165.7 L258.8 153.2 L259.0 150.5 L259.3 152.2 L259.5 150.5 L259.8 153.8 L260.0 152.3 L260.2 153.4 L260.4 150.5 L260.7 150.5 L260.9 152.7 L261.1 158.0 L261.4 163.8 L261.6 165.1 L261.9 170.0 L262.1 168.0 L262.3 172.8 L262.6 174.8 L262.8 182.6 L263.1 183.8 L263.3 179.0 L263.6 179.9 L263.9 177.8 L264.1 172.9 L264.4 169.3 L264.6 168.1 L264.9 167.8 L265.1 169.7 L265.3 172.9 L265.5 170.4 L265.8 171.4 L266.0 170.2 L266.2 171.1 L266.4 172.5 L266.6 172.7 L266.9 175.8 L267.1 176.4 L267.3 174.6 L267.6 179.8 L267.8 175.6 L268.0 179.9 L268.2 182.3 L268.4 188.3 L268.7 186.0 L268.9 192.3 L269.1 194.5 L269.4 204.7 L269.7 218.8 L270.0 224.7 L270.3 228.5 L270.6 224.9 L270.8 222.9 L271.1 217.0 L271.4 212.9 L271.6 206.8 L271.9 208.2 L272.1 204.5 L272.4 205.6 L272.6 206.1 L272.9 204.7 L273.1 202.7 L273.4 200.6 L273.6 202.2 L273.8 195.8 L274.0 197.6 L274.2 195.0 L274.5 194.4 L274.7 193.6 L274.9 194.8 L275.2 194.9 L275.4 197.6 L275.6 199.0 L275.9 198.1 L276.1 204.7 L276.3 201.1 L276.6 199.8 L276.8 201.1 L277.0 198.8 L277.2 202.4 L277.5 197.7 L277.7 192.3 L277.9 191.3 L278.1 188.3 L278.4 191.6 L278.6 187.0 L278.8 184.5 L279.1 183.5 L279.3 178.6 L279.5 179.9 L279.8 178.2 L280.0 172.0 L280.3 171.1 L280.5 172.9 L280.8 167.1 L281.0 172.0 L281.2 168.9 L281.4 168.2 L281.6 170.2 L281.9 170.7 L282.1 172.9 L282.3 171.1 L282.6 180.5 L282.8 177.6 L283.0 179.9 L283.2 178.1 L283.4 185.4 L283.7 181.5 L283.9 187.0 L284.1 186.9 L284.4 194.0 L284.6 195.0 L284.8 197.6 L285.1 197.7 L285.3 190.5 L285.6 192.3 L285.8 193.5 L286.1 188.7 L286.3 193.3 L286.5 190.5 L286.7 189.9 L286.9 195.3 L287.2 199.2 L287.4 201.1 L287.6 203.6 L287.9 207.2 L288.1 202.5 L288.3 206.4 L288.5 205.2 L288.8 208.1 L289.0 211.8 L289.2 210.0 L289.4 211.2 L289.6 207.6 L289.9 199.3 L290.1 201.1 L290.4 195.9 L290.6 192.3 L290.9 192.3 L291.1 191.7 L291.4 191.7 L291.6 192.4 L291.8 188.3 L292.0 187.6 L292.2 192.7 L292.5 194.8 L292.7 194.1 L292.9 195.8 L293.1 197.9 L293.4 198.1 L293.6 201.1 L293.8 201.6 L294.1 202.8 L294.3 205.5 L294.5 204.7 L294.7 204.1 L294.9 207.8 L295.2 206.4 L295.4 210.0 L295.7 213.5 L295.9 208.2 L296.2 213.5 L296.4 215.2 L296.6 217.5 L296.9 213.3 L297.1 218.8 L297.3 218.1 L297.6 221.2 L297.8 221.0 L298.0 222.3 L298.2 224.1 L298.4 223.5 L298.7 215.2 L298.9 217.0 L299.1 213.0 L299.4 214.7 L299.6 215.8 L299.8 214.8 L300.0 216.8 L300.2 219.2 L300.5 224.1 L300.7 222.3 L301.0 222.5 L301.2 229.0 L301.5 231.2 L301.7 229.4 L301.9 233.2 L302.2 232.9 L302.4 232.9 L302.6 229.4 L302.9 225.9 L303.1 226.5 L303.3 222.3 L303.5 223.9 L303.8 221.9 L304.0 223.8 L304.2 224.1 L304.4 222.6 L304.6 221.1 L304.9 225.0 L305.1 218.8 L305.4 219.6 L305.6 220.6 L305.9 215.1 L306.1 220.6 L306.4 216.9 L306.6 218.7 L306.9 213.6 L307.1 215.4 L307.4 213.2 L307.6 213.4 L307.8 212.1 L308.1 211.9 L308.3 209.9 L308.5 211.7 L308.7 212.8 L308.9 216.6 L309.2 216.7 L309.4 216.9 L309.6 213.5 L309.9 211.4 L310.1 216.0 L310.3 209.9 L310.5 211.7 L310.8 207.1 L311.0 201.5 L311.2 201.1 L311.4 199.6 L311.6 193.1 L311.9 200.9 L312.1 194.0 L312.4 194.3 L312.6 192.7 L312.9 190.5 L313.1 189.3 L313.4 186.9 L313.6 188.6 L313.8 187.0 L314.0 185.5 L314.2 189.2 L314.5 185.9 L314.7 188.7 L314.9 189.1 L315.1 186.1 L315.4 187.7 L315.6 185.2 L315.8 187.0 L316.1 183.1 L316.3 181.3 L316.5 179.4 L316.8 182.3 L317.0 187.1 L317.3 188.7 L317.5 191.6 L317.8 189.6 L318.0 193.8 L318.2 195.8 L318.4 195.8 L318.6 200.9 L318.9 200.6 L319.1 204.6 L319.3 204.7 L319.6 205.5 L319.8 207.2 L320.0 206.4 L320.2 203.4 L320.4 202.0 L320.7 202.1 L320.9 199.3 L321.1 201.0 L321.4 197.4 L321.6 198.8 L321.8 195.3 L322.1 197.6 L322.3 194.1 L322.6 195.8 L322.8 200.7 L323.1 203.4 L323.3 202.7 L323.5 202.8 L323.7 201.0 L323.9 204.4 L324.2 207.0 L324.4 206.4 L324.6 204.8 L324.9 203.7 L325.1 206.5 L325.3 201.1 L325.5 200.0 L325.8 198.4 L326.0 196.7 L326.2 198.4 L326.5 198.1 L326.7 202.6 L327.0 201.1 L327.2 199.3 L327.4 199.4 L327.7 202.5 L327.9 202.8 L328.1 202.7 L328.4 205.3 L328.6 207.2 L328.8 206.4 L329.0 209.1 L329.2 209.6 L329.5 204.6 L329.7 208.1 L329.9 210.9 L330.1 208.5 L330.4 212.4 L330.6 213.4 L330.8 212.8 L331.1 211.6 L331.3 219.8 L331.5 218.7 L331.8 219.2 L332.0 213.4 L332.3 215.2 L332.5 217.0 L332.8 209.5 L333.0 207.2 L333.2 206.4 L333.4 202.6 L333.6 199.6 L333.9 200.8 L334.1 197.5 L334.3 199.3 L334.6 195.0 L334.8 196.5 L335.0 194.0 L335.2 190.5 L335.4 192.1 L335.7 191.4 L335.9 192.3 L336.2 188.7 L336.4 189.8 L336.7 190.5 L336.9 188.7 L337.2 190.3 L337.4 189.6 L337.7 192.7 L337.9 192.7 L338.2 190.9 L338.5 191.8 L338.7 192.9 L339.0 195.8 L339.2 196.4 L339.4 196.9 L339.7 200.6 L339.9 199.3 L340.2 202.0 L340.4 201.5 L340.7 197.5 L340.9 199.4 L341.2 201.1 L341.5 199.6 L341.7 204.1 L342.0 204.6 L342.2 202.2 L342.4 202.6 L342.7 197.1 L342.9 197.5 L343.1 200.4 L343.4 200.3 L343.6 199.0 L343.8 201.1 L344.0 200.6 L344.2 206.4 L344.5 204.2 L344.7 204.6 L344.9 205.7 L345.1 207.5 L345.4 206.8 L345.6 206.4 L345.8 207.3 L346.1 206.8 L346.3 206.6 L346.5 206.8 L346.8 202.8 L347.0 204.6 L347.2 203.1 L347.4 207.0 L347.7 205.0 L347.9 209.9 L348.1 211.3 L348.4 208.1 L348.6 212.1 L348.9 212.6 L349.1 213.4 L349.3 211.6 L349.6 216.2 L349.8 218.4 L350.0 218.8 L350.2 217.0 L350.5 219.5 L350.8 224.0 L351.0 224.8 L351.2 223.1 L351.5 227.6 L351.8 227.3 L352.0 226.8 L352.2 225.0 L352.5 228.6 L352.8 230.0 L353.0 228.8 L353.2 229.0 L353.5 230.3 L353.8 234.1 L354.0 232.8 L354.2 226.8 L354.5 223.5 L354.8 227.5 L355.0 222.8 L355.2 218.9 L355.5 218.8 L355.8 215.0 L356.0 216.8 L356.2 215.0 L356.5 216.1 L356.8 215.0 L357.0 217.1 L357.2 216.3 L357.5 226.2 L357.8 226.1 L358.0 226.8 L358.3 235.0 L358.6 240.8 L358.9 240.1 L359.1 245.4 L359.4 250.8 L359.7 244.9 L360.0 244.8 L360.2 243.9 L360.5 236.8 L360.8 238.0 L361.0 236.8 L361.2 238.6 L361.5 235.2 L361.8 237.9 L362.0 234.8 L362.2 231.2 L362.5 233.6 L362.8 228.8 L363.0 228.8 L363.2 227.7 L363.5 231.6 L363.8 231.2 L364.0 234.8 L364.2 230.1 L364.5 229.4 L364.8 226.8 L365.0 224.8 L365.2 223.4 L365.5 226.6 L365.8 225.9 L366.0 224.1 L366.2 223.3 L366.5 224.7 L366.8 229.2 L367.0 230.8 L367.2 229.0 L367.5 233.3 L367.8 237.7 L368.0 238.8 L368.2 238.7 L368.5 237.9 L368.8 236.6 L369.0 234.8 L369.2 230.3 L369.5 229.2 L369.8 230.6 L370.0 228.8 L370.2 224.9 L370.5 225.6 L370.8 224.3 L371.0 220.8 L371.2 217.0 L371.5 215.8 L371.8 219.2 L372.0 212.8 L372.2 211.9 L372.5 205.0 L372.8 206.4 L373.0 202.8 L373.2 204.9 L373.5 201.1 L373.8 203.8 L374.0 203.1 L374.2 202.3 L374.5 201.3 L374.8 206.0 L375.0 206.8 L375.2 209.0 L375.5 210.3 L375.8 210.4 L376.0 216.8 L376.2 218.7 L376.5 218.9 L376.8 222.4 L377.0 222.8 L377.2 222.8 L377.5 224.4 L377.8 225.1 L378.0 226.8 L378.2 228.3 L378.5 227.8 L378.8 231.1 L379.0 230.8 L379.2 231.3 L379.5 232.4 L379.8 234.2 L380.0 232.8 L380.2 237.7 L380.5 237.4 L380.8 237.8 L381.0 240.8 L381.2 243.2 L381.5 243.6 L381.8 242.8 L382.0 248.8 L382.2 250.6 L382.5 246.2 L382.8 247.2 L383.0 246.8 L383.2 243.3 L383.5 239.2 L383.8 236.7 L384.0 234.8 L384.2 234.5 L384.5 232.6 L384.8 229.5 L385.0 228.8 L385.2 228.8 L385.5 232.6 L385.8 228.6 L386.0 230.8 L386.2 229.3 L386.5 231.3 L386.8 232.6 L387.0 228.1 L387.2 231.0 L387.5 231.2 L387.8 229.9 L388.0 230.8 L388.2 232.6 L388.5 235.2 L388.8 236.3 L389.0 234.8 L389.2 238.5 L389.5 233.7 L389.8 237.5 L390.0 236.8 L390.2 236.6 L390.5 232.7 L390.8 230.6 L391.0 230.8 L391.2 230.8 L391.5 230.2 L391.8 231.3 L392.0 232.8 L392.2 230.3 L392.5 229.4 L392.8 225.0 L393.0 226.8 L393.2 227.1 L393.5 227.2 L393.8 227.4 L394.0 225.1 L394.2 227.0 L394.5 229.5 L394.8 227.0 L395.0 230.8 L395.2 229.0 L395.5 234.1 L395.8 235.7 L396.0 234.8 L396.2 233.0 L396.5 238.6 L396.8 235.4 L397.0 238.8 L397.2 240.6 L397.5 239.3 L397.8 235.8 L398.0 234.8 L398.2 233.4 L398.5 233.7 L398.8 231.0 L399.0 232.8 L399.2 236.0 L399.5 234.0 L399.8 235.5 L400.0 236.8 L400.2 235.0 L400.5 240.6 L400.8 239.4 L401.0 238.8 L401.2 240.3 L401.5 239.3 L401.8 239.1 L402.0 240.8 L402.2 239.0 L402.5 244.6 L402.8 241.7 L403.0 242.8 L403.2 245.7 L403.5 245.6 L403.8 245.4 L404.0 246.8 L404.2 249.9 L404.5 250.9 L404.8 254.4 L405.0 254.8 L405.2 259.2 L405.5 259.0 L405.8 264.1 L406.0 264.8 L406.2 268.5 L406.5 264.2 L406.8 268.2 L407.0 270.8 L407.2 268.3 L407.5 268.4 L407.8 270.7 L408.0 268.8 L408.2 268.0 L408.5 266.5 L408.8 263.5 L409.0 260.8 L409.2 258.3 L409.5 258.1 L409.8 255.4 L410.0 254.8 L410.2 254.3 L410.5 255.5 L410.8 250.1 L411.0 248.8 L411.2 250.6 L411.5 248.1 L411.8 247.0 L412.0 248.1 L412.2 250.3 L412.5 254.2 L412.8 251.6 L413.0 254.8 L413.2 255.3 L413.5 256.4 L413.8 262.6 L414.0 260.8 L414.2 262.2 L414.5 263.5 L414.8 265.6 L415.0 263.8 L415.2 263.7 L415.5 263.2 L415.8 257.1 L416.0 255.8 L416.2 255.6 L416.5 250.9 L416.8 253.3 L417.0 249.8 L417.2 249.3 L417.5 249.4 L417.8 249.8 L418.0 247.8 L418.2 246.2 L418.5 248.2 L418.8 252.4 L419.0 253.8 L419.2 251.0 L419.5 249.4 L419.8 244.0 L420.0 245.8 L420.2 245.8 L420.5 240.5 L420.8 240.3 L421.0 237.8 L421.2 239.9 L421.5 236.0 L421.8 237.3 L422.0 238.1 L422.2 242.2 L422.5 238.7 L422.8 242.9 L423.0 241.8 L423.2 245.9 L423.5 247.1 L423.8 248.9 L424.0 253.8 L424.2 256.0 L424.5 258.7 L424.8 265.0 L425.0 265.8 L425.2 271.2 L425.5 264.3 L425.8 270.6 L426.0 271.8 L426.2 271.6 L426.5 272.0 L426.8 275.6 L427.0 273.8 L427.2 273.2 L427.5 273.3 L427.8 276.7 L428.0 275.8 L428.2 277.1 L428.5 280.6 L428.8 280.4 L429.0 279.8 L429.2 278.0 L429.5 282.2 L429.8 282.4 L430.0 281.8 L430.2 281.2 L430.5 282.1 L430.8 280.1 L431.0 275.8 L431.2 275.2 L431.5 277.5 L431.8 279.2 L432.0 279.8 L432.2 283.6 L432.5 281.0 L432.8 282.3 L433.0 283.8 L433.2 278.2 L433.5 282.4 L433.8 279.4 L434.0 277.8 L434.2 275.7 L434.5 279.1 L434.8 277.3 L435.0 273.8 L435.2 274.5 L435.5 269.1 L435.8 267.9 L436.0 265.8 L436.2 264.6 L436.5 267.6 L436.8 264.6 L437.0 263.8 L437.2 264.7 L437.5 264.6 L437.8 270.3 L438.0 269.8 L438.2 266.8 L438.5 269.6 L438.8 270.0 L439.0 265.8 L439.2 262.1 L439.5 258.1 L439.8 259.4 L440.0 257.8 L440.2 249.5 L440.5 251.0 L440.8 248.2 L441.0 245.8 L441.2 245.6 L441.5 241.1 L441.8 234.6 L442.0 229.8 L442.2 229.0 L442.5 224.1 L442.8 221.1 L443.0 217.8 L443.2 219.9 L443.5 222.4 L443.8 219.9 L444.0 221.8 L444.2 222.1 L444.5 219.3 L444.8 218.0 L445.0 219.8 L445.2 217.6 L445.5 217.8 L445.8 215.5 L446.0 213.8 L446.2 212.5 L446.5 211.4 L446.8 209.6 L447.0 210.8 L447.2 212.1 L447.5 209.1 L447.8 212.8 L448.0 211.1 L448.2 212.7 L448.5 211.9 L448.8 212.8 L449.0 213.8 L449.2 212.5 L449.5 217.4 L449.8 221.2 L450.0 219.8 L450.2 220.9 L450.5 218.0 L450.8 224.4 L451.0 223.8 L451.2 223.5 L451.5 223.3 L451.8 225.1 L452.0 225.8 L452.2 227.6 L452.5 224.4 L452.8 222.8 L453.0 221.8 L453.2 223.4 L453.5 217.1 L453.8 217.6 L454.0 217.8 L454.2 218.2 L454.5 218.9 L454.8 213.6 L455.0 213.8 L455.2 213.1 L455.5 210.2 L455.8 210.2 L456.0 211.8 L456.2 210.4 L456.5 207.5 L456.8 213.6 L457.0 209.1 L457.2 209.3 L457.5 211.1 L457.8 211.6 L458.0 209.8 L458.2 210.5 L458.5 209.1 L458.8 210.5 L459.0 211.8 L459.2 211.7 L459.5 214.6 L459.8 215.2 L460.0 213.8 L460.3 213.9 L460.6 216.8 L460.8 217.1 L461.1 217.3 L461.4 217.6 L461.6 225.6 L461.9 227.6 L462.1 227.9 L462.4 225.2 L462.6 220.5 L462.9 217.3 L463.2 213.1 L463.4 210.5 L463.7 207.4 L463.9 203.2 L464.2 204.6 L464.5 203.0 L464.8 206.1 L465.0 202.8 L465.3 208.8 L465.6 208.3 L465.8 200.4 L466.1 203.5 L466.3 200.4 L466.6 200.8 L466.9 197.5 L467.1 193.3 L467.4 191.9 L467.7 188.5 L467.9 185.9 L468.2 187.7 L468.5 183.5 L468.8 184.3 L469.0 182.3 L469.2 185.5 L469.5 183.7 L469.8 184.9 L470.1 186.8 L470.3 189.0 L470.6 189.8 L470.9 190.8 L471.1 191.5 L471.4 193.9 L471.6 194.1 L471.9 191.6 L472.1 187.8 L472.4 183.3 L472.7 183.5 L472.9 183.8 L473.2 184.0 L473.4 185.5 L473.7 187.7 L474.0 187.3 L474.2 185.9 L474.5 190.1 L474.8 189.8 L475.1 184.9 L475.4 184.9 L475.6 186.7 L475.9 186.7 L476.1 184.9 L476.4 187.7 L476.6 189.0 L476.9 187.7 L477.2 188.7 L477.4 191.0 L477.7 191.1 L478.0 191.9 L478.2 192.2 L478.5 194.6 L478.8 197.5 L479.0 198.3 L479.3 197.3 L479.6 194.3 L479.8 192.4 L480.1 189.8 L480.4 193.4 L480.6 191.7 L480.9 193.8 L481.1 194.1 L481.4 192.8 L481.6 199.0 L481.9 199.5 L482.2 198.3 L482.5 192.9 L482.8 197.2 L483.0 189.3 L483.3 191.1 L483.6 194.5 L483.8 192.9 L484.1 195.0 L484.3 194.1 L484.6 196.9 L484.9 200.8 L485.1 199.8 L485.4 204.6 L485.6 214.0 L485.9 212.3 L486.1 216.2 L486.4 215.2 L486.7 214.7 L486.9 211.3 L487.2 211.3 L487.5 213.1 L487.8 212.4 L488.0 209.0 L488.2 208.5 L488.5 208.8 L488.8 208.4 L489.1 210.1 L489.3 205.0 L489.6 202.5 L489.9 201.2 L490.1 202.0 L490.4 202.4 L490.7 201.7 L490.9 209.4 L491.2 207.7 L491.4 211.3 L491.7 213.1 L492.0 216.5 L492.2 215.8 L492.5 225.2 L492.8 223.7 L493.1 225.3 L493.3 225.7 L493.6 226.6 L493.8 227.9 L494.1 228.9 L494.4 230.1 L494.6 233.1 L494.9 234.2 L495.1 234.0 L495.4 241.5 L495.6 240.5 L495.9 240.6 L496.2 243.9 L496.4 245.9 L496.7 248.2 L497.0 246.9 L497.3 247.5 L497.6 253.2 L497.8 254.5 L498.1 255.4 L498.4 257.2 L498.6 253.1 L498.9 253.5 L499.1 251.1 L499.4 252.1 L499.6 248.7 L499.9 246.2 L500.2 244.8 L500.4 243.5 L500.7 239.0 L500.9 239.3 L501.2 238.5 L501.5 239.9 L501.8 233.9 L502.0 232.4 L502.3 234.2 L502.6 236.0 L502.8 231.1 L503.1 231.7 L503.3 230.0 L503.6 226.1 L503.9 226.1 L504.1 227.3 L504.4 227.9 L504.7 229.6 L504.9 231.1 L505.2 226.3 L505.5 230.0 L505.8 228.3 L506.0 226.1 L506.2 224.5 L506.5 225.8 L506.8 227.6 L507.1 226.3 L507.3 222.1 L507.6 223.7 L507.9 223.4 L508.1 225.5 L508.4 221.5 L508.6 221.5 L508.9 218.8 L509.1 219.6 L509.4 218.2 L509.7 219.4 L509.9 219.2 L510.2 220.9 L510.4 214.7 L510.7 216.5 L511.0 217.8 L511.2 218.2 L511.5 219.9 L511.8 219.4 L512.1 218.9 L512.4 223.2 L512.6 227.7 L512.9 227.9 L513.1 232.6 L513.4 232.2 L513.6 226.9 L513.9 232.1 L514.2 226.9 L514.5 230.7 L514.7 226.8 L515.0 223.7 L515.2 223.5 L515.5 221.4 L515.8 216.4 L516.0 217.3 L516.3 213.4 L516.5 219.1 L516.8 213.4 L517.1 215.2 L517.4 215.2 L517.6 213.3 L517.9 211.7 L518.1 213.1 L518.4 210.6 L518.6 212.4 L518.9 210.7 L519.2 208.8 L519.5 210.6 L519.8 207.0 L520.0 204.9 L520.3 205.9 L520.5 206.6 L520.8 205.5 L521.0 207.2 L521.3 206.7 L521.6 211.6 L521.9 211.5 L522.1 215.1 L522.4 217.3 L522.6 219.0 L522.9 219.8 L523.1 224.4 L523.4 225.8 L523.7 222.8 L524.0 224.9 L524.2 221.9 L524.5 221.5 L524.8 216.8 L525.0 219.0 L525.2 214.3 L525.5 211.8 L525.8 210.0 L526.0 215.0 L526.3 210.5 L526.5 210.5 L526.8 213.2 L527.1 212.0 L527.3 206.1 L527.6 207.9 L527.8 207.5 L528.0 201.6 L528.3 204.2 L528.5 203.4 L528.7 203.0 L529.0 204.0 L529.2 204.2 L529.4 203.9 L529.6 202.1 L529.9 210.3 L530.1 210.1 L530.3 209.6 L530.5 211.0 L530.8 209.4 L531.0 213.0 L531.2 214.9 L531.4 213.1 L531.6 213.3 L531.9 217.7 L532.1 216.7 L532.4 218.1 L532.6 216.9 L532.9 218.4 L533.1 225.5 L533.4 221.3 L533.6 221.7 L533.8 223.7 L534.0 226.2 L534.2 223.2 L534.5 226.2 L534.7 227.3 L534.9 230.4 L535.1 225.5 L535.4 228.8 L535.6 229.0 L535.8 228.4 L536.0 223.9 L536.3 225.6 L536.5 223.7 L536.7 222.8 L537.0 219.7 L537.2 221.5 L537.4 218.4 L537.7 217.8 L537.9 214.3 L538.2 214.9 L538.4 213.7 L538.6 213.2 L538.9 216.7 L539.1 213.2 L539.3 207.8 L539.5 212.8 L539.8 212.7 L540.0 209.6 L540.2 211.3 L540.5 211.9 L540.7 211.7 L540.9 213.2 L541.1 214.4 L541.4 209.2 L541.6 207.7 L541.8 207.9 L542.1 203.8 L542.3 206.2 L542.6 204.3 L542.8 202.4 L543.0 203.3 L543.3 202.3 L543.5 200.8 L543.7 197.2 L544.0 200.7 L544.2 197.7 L544.4 197.3 L544.6 194.8 L544.9 198.7 L545.1 194.4 L545.3 192.0 L545.5 189.8 L545.8 189.9 L546.0 191.9 L546.2 189.7 L546.4 190.1 L546.6 194.5 L546.9 188.2 L547.1 195.5 L547.4 195.0 L547.6 201.2 L547.9 200.8 L548.1 203.3 L548.4 203.1 L548.6 201.7 L548.8 202.6 L549.0 202.5 L549.2 207.9 L549.5 201.8 L549.7 206.1 L549.9 204.7 L550.1 206.3 L550.4 204.3 L550.6 202.6 L550.8 203.9 L551.0 203.9 L551.3 206.3 L551.5 209.6 L551.7 207.7 L552.0 211.4 L552.2 206.1 L552.4 204.3 L552.7 205.2 L552.9 203.8 L553.2 207.9 L553.4 213.2 L553.6 208.4 L553.9 212.6 L554.1 211.4 L554.3 212.6 L554.5 213.2 L554.8 209.1 L555.0 209.6 L555.2 208.4 L555.5 205.8 L555.7 205.6 L555.9 206.1 L556.1 209.2 L556.4 208.8 L556.6 206.2 L556.8 207.9 L557.1 209.0 L557.3 209.2 L557.6 206.1 L557.8 207.9 L558.0 207.0 L558.3 202.9 L558.5 204.3 L558.7 205.0 L559.0 203.3 L559.2 205.8 L559.4 203.9 L559.6 205.7 L559.9 202.1 L560.1 204.1 L560.3 204.3 L560.5 205.1 L560.8 206.3 L561.0 202.5 L561.2 206.1 L561.4 207.8 L561.6 205.8 L561.9 211.7 L562.1 213.2 L562.4 215.4 L562.6 220.2 L562.9 218.4 L563.1 219.3 L563.4 216.2 L563.6 215.2 L563.8 213.2 L564.0 210.8 L564.2 206.5 L564.5 205.7 L564.7 206.1 L564.9 204.4 L565.1 205.5 L565.4 198.3 L565.6 199.0 L565.8 196.3 L566.0 199.1 L566.3 195.5 L566.5 197.3 L566.7 199.0 L567.0 195.6 L567.2 196.1 L567.4 195.5 L567.7 197.3 L567.9 192.5 L568.2 192.0 L568.4 192.6 L568.6 188.4 L568.9 193.8 L569.1 190.2 L569.3 187.2 L569.5 189.6 L569.8 188.9 L570.0 188.4 L570.2 184.2 L570.5 188.4 L570.7 182.2 L570.9 184.0 L571.1 183.4 L571.4 185.3 L571.6 184.3 L571.8 184.5 L572.1 185.8 L572.3 192.5 L572.6 192.0 L572.8 189.5 L573.0 189.1 L573.3 189.4 L573.5 190.2 L573.7 190.6 L574.0 187.1 L574.2 188.6 L574.4 186.7 L574.6 188.1 L574.9 190.2 L575.1 195.5 L575.3 193.7 L575.5 192.6 L575.8 195.0 L576.0 193.7 L576.2 195.5 L576.4 191.4 L576.6 194.7 L576.9 190.2 L577.1 192.0 L577.4 193.6 L577.6 197.2 L577.9 199.0 L578.1 196.1 L578.4 198.8 L578.6 197.6 L578.8 193.7 L579.0 194.2 L579.2 195.5 L579.5 192.9 L579.7 195.5 L579.9 193.4 L580.1 194.2 L580.4 190.2 L580.6 190.2 L580.8 188.1 L581.0 187.7 L581.3 185.3 L581.5 186.7 L581.7 189.6 L582.0 189.8 L582.2 188.7 L582.4 188.4 L582.7 189.3 L582.9 187.7 L583.2 186.2 L583.4 188.5 L583.6 184.4 L583.9 188.2 L584.1 186.7 L584.3 188.6 L584.5 187.4 L584.8 187.9 L585.0 188.4 L585.2 188.0 L585.5 184.9 L585.7 188.2 L585.9 186.7 L586.1 190.3 L586.4 191.0 L586.6 187.1 L586.8 192.0 L587.1 196.7 L587.3 197.1 L587.6 195.5 L587.8 197.8 L588.0 195.2 L588.3 200.6 L588.5 199.0 L588.7 195.5 L589.0 197.7 L589.2 195.5 L589.4 197.3 L589.6 202.6 L589.9 197.9 L590.1 197.4 L590.3 200.8 L590.5 204.0 L590.8 199.4 L591.0 201.6 L591.2 202.6 L591.4 204.1 L591.6 205.2 L591.9 206.1 L592.1 204.3 L592.4 200.9 L592.6 205.4 L592.9 202.6 L593.1 202.6 L593.4 200.5 L593.6 204.4 L593.8 202.1 L594.0 201.8 L594.2 200.3 L594.5 204.4 L594.7 202.6 L595.0 202.3 L595.2 203.7 L595.5 202.8 L595.7 200.3 L596.0 202.1 L596.2 203.2 L596.5 201.5 L596.8 202.3 L597.0 202.8 L597.2 205.0 L597.5 210.6 L597.8 206.1 L598.0 208.8 L598.2 211.7 L598.5 211.3 L598.8 214.6 L599.0 214.8 L599.2 216.4 L599.5 217.5 L599.8 215.9 L600.0 216.8 L600.2 213.0 L600.5 217.1 L600.8 214.8 L601.0 214.8 L601.2 217.5 L601.5 214.7 L601.8 218.1 L602.0 220.8 L602.2 219.0 L602.5 224.6 L602.8 221.1 L603.0 222.8 L603.2 222.1 L603.5 225.1 L603.8 221.8 L604.0 224.8 L604.2 225.1 L604.5 227.4 L604.8 226.4 L605.0 226.8 L605.2 225.0 L605.5 229.2 L605.8 229.5 L606.0 228.8 L606.2 228.1 L606.5 229.3 L606.8 236.6 L607.0 234.8 L607.2 234.7 L607.5 238.0 L607.8 236.6 L608.0 239.8 L608.2 234.9 L608.5 234.8 L608.8 234.4 L609.0 230.8 L609.2 232.8 L609.5 229.0 L609.8 232.2 L610.0 232.8 L610.2 230.3 L610.5 234.1 L610.8 233.3 L611.0 232.1 L611.2 230.3 L611.5 232.5 L611.8 230.3 L612.0 232.8 L612.2 232.4 L612.5 230.3 L612.8 234.6 L613.0 232.1 L613.2 233.9 L613.5 231.8 L613.8 232.7 L614.0 231.8 L614.2 232.3 L614.5 234.8 L614.8 231.4 L615.0 234.8 L615.2 233.0 L615.5 236.0 L615.8 236.2 L616.0 237.8 L616.2 239.2 L616.5 234.4 L616.8 234.8 L617.0 230.8 L617.2 230.2 L617.5 231.8 L617.8 227.3 L618.0 224.8 L618.2 222.9 L618.5 222.3 L618.8 224.1 L619.0 222.8 L619.2 224.6 L619.5 223.4 L619.8 220.3 L620.0 222.1 L620.2 224.6 L620.5 222.9 L620.8 220.3 L621.0 222.8 L621.2 221.0 L621.5 221.0 L621.8 224.1 L622.0 224.8 L622.2 228.6 L622.5 225.7 L622.8 227.1 L623.0 226.8 L623.2 227.7 L623.5 225.6 L623.8 230.8 L624.0 230.8 L624.2 229.5 L624.5 231.0 L624.8 230.5 L625.0 228.8 L625.2 230.6 L625.5 227.9 L625.8 229.1 L626.0 224.8 L626.2 220.6 L626.5 221.5 L626.8 226.5 L627.0 220.8 L627.2 218.7 L627.5 221.2 L627.8 219.9 L628.0 218.8 L628.2 217.3 L628.5 213.7 L628.8 217.4 L629.0 214.8 L629.2 216.6 L629.5 215.1 L629.8 213.7 L630.0 212.8 L630.2 212.6 L630.5 208.5 L630.8 212.0 L631.0 208.8 L631.2 210.6 L631.5 210.6 L631.8 204.5 L632.0 205.8 L632.2 206.0 L632.5 205.6 L632.8 204.7 L633.0 203.8 L633.2 205.2 L633.5 202.0 L633.8 201.0 L634.0 202.8 L634.2 203.1 L634.5 201.7 L634.8 204.5 L635.0 204.8 L635.2 205.3 L635.5 205.1 L635.8 205.8 L636.0 205.8 L636.2 203.4 L636.5 202.4 L636.8 202.3 L637.0 198.8 L637.2 198.9 L637.5 194.2 L637.8 196.9 L638.0 195.8 L638.2 197.8 L638.5 195.1 L638.8 197.6 L639.0 196.8 L639.2 197.6 L639.5 194.0 L639.8 194.0 L640.0 195.8 L640.2 194.4 L640.5 192.6 L640.8 190.4 L641.0 190.8 L641.2 188.3 L641.5 189.6 L641.8 188.3 L642.0 190.1 L642.2 190.6 L642.5 192.0 L642.8 193.9 L643.0 194.8 L643.2 199.0 L643.5 196.4 L643.8 198.1 L644.0 202.8 L644.2 204.6 L644.5 201.2 L644.8 201.6 L645.0 200.8 L645.2 202.6 L645.5 202.6 L645.8 198.0 L646.0 198.8 L646.2 198.3 L646.5 197.7 L646.8 200.0 L647.0 195.8 L647.2 196.5 L647.5 199.7 L647.8 201.8 L648.0 200.8 L648.2 204.6 L648.5 199.0 L648.8 199.0 L649.0 202.8 L649.2 200.9 L649.5 199.0 L649.8 199.1 L650.0 200.8 L650.2 200.1 L650.5 202.3 L650.8 203.8 L651.0 204.8 L651.2 205.3 L651.5 205.7 L651.8 208.1 L652.0 208.8 L652.2 208.1 L652.5 209.8 L652.8 209.0 L653.0 209.8 L653.2 210.3 L653.5 209.9 L653.8 208.2 L654.0 208.8 L654.2 208.4 L654.5 206.6 L654.8 207.3 L655.0 206.8 L655.2 205.5 L655.5 203.8 L655.8 201.0 L656.0 202.8 L656.2 201.0 L656.5 205.5 L656.8 203.9 L657.0 204.8 L657.2 203.0 L657.5 206.7 L657.8 207.3 L658.0 208.8 L658.2 205.0 L658.5 209.7 L658.8 205.0 L659.0 206.8 L659.2 206.0 L659.5 201.7 L659.8 202.4 L660.0 198.8 L660.2 200.5 L660.5 195.4 L660.8 198.0 L661.0 192.8 L661.2 188.0 L661.5 191.3 L661.8 192.8 L662.0 189.8 L662.2 191.6 L662.5 185.1 L662.8 188.3 L663.0 186.8 L663.3 177.2 L663.6 176.8 L663.8 176.1 L664.0 168.8 L664.2 170.6 L664.4 168.6" stroke="#00aeef" stroke-width="1.8" fill="none" stroke-linejoin="round" stroke-linecap="round"/></svg>
<div class="t" style="left:9.0px;top:4.5px;font-size:14.25px;font-weight:bold;font-style:normal;color:#ffffff;transform:scale(1.011,1);transform-origin:left top">NY Gold (NYM $/ozt)</div><div class="t" style="left:9.3px;top:22.4px;font-size:8.3px;font-weight:normal;font-style:normal;color:#e6e6e6;transform:scale(0.9532,1);transform-origin:left top">1414.90 0.00 0.00% 4:01:36 PM VWAP:</div><div class="t" style="right:52.89999999999998px;top:4.3px;font-size:14px;font-weight:bold;font-style:normal;color:#ffffff;transform:scale(1.0,1);transform-origin:right top">Daily</div><div class="t" style="right:57.299999999999955px;top:22.4px;font-size:8.3px;font-weight:normal;font-style:normal;color:#e6e6e6;transform:scale(0.9396,1);transform-origin:right top">High: 1888.70 Low: 909.00 Chg: 50.41%</div><div class="t" style="left:10px;top:36.5px;width:18px;height:3px;border-radius:1.5px;background:#00aeef"></div><div class="t" style="left:31.6px;top:34.2px;font-size:9.8px;font-weight:normal;font-style:normal;color:#1a9fdc;transform:scale(1.011,1);transform-origin:left top">NY Gold (NYM $/ozt) - Price</div><div class="t" style="left:692.3px;top:26.8px;font-size:10px;font-weight:normal;font-style:normal;color:#e6e6e6;transform:scale(1.0,1);transform-origin:left top">2,000</div><div class="t" style="left:692.3px;top:68.8px;font-size:10px;font-weight:normal;font-style:normal;color:#e6e6e6;transform:scale(1.0,1);transform-origin:left top">1,800</div><div class="t" style="left:692.3px;top:114.8px;font-size:10px;font-weight:normal;font-style:normal;color:#e6e6e6;transform:scale(1.0,1);transform-origin:left top">1,600</div><div class="t" style="left:692.3px;top:226.8px;font-size:10px;font-weight:normal;font-style:normal;color:#e6e6e6;transform:scale(1.0,1);transform-origin:left top">1,200</div><div class="t" style="left:692.3px;top:297.8px;font-size:10px;font-weight:normal;font-style:normal;color:#e6e6e6;transform:scale(1.0,1);transform-origin:left top">1,000</div><div class="t" style="left:692.3px;top:384.8px;font-size:10px;font-weight:normal;font-style:normal;color:#e6e6e6;transform:scale(1.0,1);transform-origin:left top">800</div><div class="t" style="left:-22.4px;width:60px;text-align:center;top:397px;font-size:10px;font-weight:normal;font-style:normal;color:#e6e6e6;transform:scale(1.03,1);transform-origin:center top">'09</div><div class="t" style="left:43.099999999999994px;width:60px;text-align:center;top:397px;font-size:10px;font-weight:normal;font-style:normal;color:#e6e6e6;transform:scale(1.03,1);transform-origin:center top">'10</div><div class="t" style="left:109.1px;width:60px;text-align:center;top:397px;font-size:10px;font-weight:normal;font-style:normal;color:#e6e6e6;transform:scale(1.03,1);transform-origin:center top">'11</div><div class="t" style="left:174.6px;width:60px;text-align:center;top:397px;font-size:10px;font-weight:normal;font-style:normal;color:#e6e6e6;transform:scale(1.03,1);transform-origin:center top">'12</div><div class="t" style="left:240.60000000000002px;width:60px;text-align:center;top:397px;font-size:10px;font-weight:normal;font-style:normal;color:#e6e6e6;transform:scale(1.03,1);transform-origin:center top">'13</div><div class="t" style="left:306.1px;width:60px;text-align:center;top:397px;font-size:10px;font-weight:normal;font-style:normal;color:#e6e6e6;transform:scale(1.03,1);transform-origin:center top">'14</div><div class="t" style="left:371.6px;width:60px;text-align:center;top:397px;font-size:10px;font-weight:normal;font-style:normal;color:#e6e6e6;transform:scale(1.03,1);transform-origin:center top">'15</div><div class="t" style="left:437.6px;width:60px;text-align:center;top:397px;font-size:10px;font-weight:normal;font-style:normal;color:#e6e6e6;transform:scale(1.03,1);transform-origin:center top">'16</div><div class="t" style="left:503.1px;width:60px;text-align:center;top:397px;font-size:10px;font-weight:normal;font-style:normal;color:#e6e6e6;transform:scale(1.03,1);transform-origin:center top">'17</div><div class="t" style="left:568.6px;width:60px;text-align:center;top:397px;font-size:10px;font-weight:normal;font-style:normal;color:#e6e6e6;transform:scale(1.03,1);transform-origin:center top">'18</div><div class="t" style="left:685.6px;top:411px;font-size:10px;font-weight:normal;font-style:italic;color:#e6e6e6;transform:scale(1.027,1);transform-origin:left top">@FactSet</div><svg class="ov" width="738" height="425"><rect x="699" y="175" width="1" height="1" fill="#9a9a9a"/><path d="M685 167.7 L690.3 160.4 H734.5 V175 H690.3 Z" fill="#00aeef"/></svg><div class="t" style="left:692px;top:162.9px;font-size:11px;font-weight:bold;font-style:normal;color:#000000;transform:scale(1.05,1);transform-origin:left top">1414.90</div>
</body></html>
